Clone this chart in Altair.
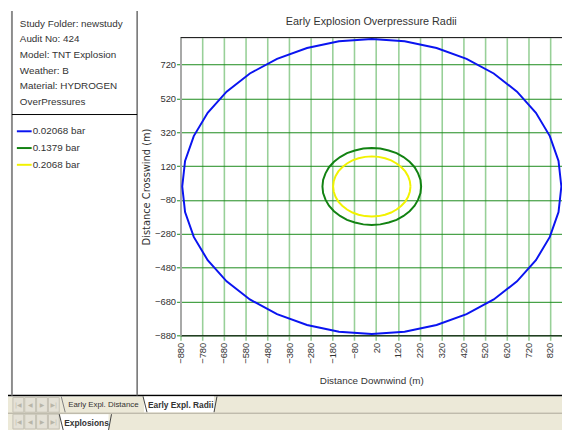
import altair as alt
import pandas as pd

# ---------------- data ----------------
LEVELS = ["0.02068 bar", "0.1379 bar", "0.2068 bar"]
COLORS = ["#0a14f0", "#128212", "#f2f200"]

BLUE_X = [872, 859, 819, 755, 668, 561, 436, 298, 151, 0, -151, -298, -436, -561, -668, -755, -819, -859,
          -872, -859, -819, -755, -668, -561, -436, -298, -151, 0, 151, 298, 436, 561, 668, 755, 819, 859, 872]
BLUE_Y = [0, 151, 298, 436, 561, 668, 755, 819, 859, 872, 859, 819, 755, 668, 561, 436, 298, 151,
          0, -151, -298, -436, -561, -668, -755, -819, -859, -872, -859, -819, -755, -668, -561, -436, -298, -151, 0]

GREEN_X = [227, 224, 213, 197, 174, 146, 114, 78, 39, 0, -39, -78, -114, -146, -174, -197, -213, -224,
           -227, -224, -213, -197, -174, -146, -114, -78, -39, 0, 39, 78, 114, 146, 174, 197, 213, 224, 227]
GREEN_Y = [0, 39, 78, 114, 146, 174, 197, 213, 224, 227, 224, 213, 197, 174, 146, 114, 78, 39,
           0, -39, -78, -114, -146, -174, -197, -213, -224, -227, -224, -213, -197, -174, -146, -114, -78, -39, 0]

YELLOW_X = [178, 175, 167, 154, 136, 114, 89, 61, 31, 0, -31, -61, -89, -114, -136, -154, -167, -175,
            -178, -175, -167, -154, -136, -114, -89, -61, -31, 0, 31, 61, 89, 114, 136, 154, 167, 175, 178]
YELLOW_Y = [0, 31, 61, 89, 114, 136, 154, 167, 175, 178, 175, 167, 154, 136, 114, 89, 61, 31,
            0, -31, -61, -89, -114, -136, -154, -167, -175, -178, -175, -167, -154, -136, -114, -89, -61, -31, 0]

X_TICKS = [-880, -780, -680, -580, -480, -380, -280, -180, -80, 20, 120, 220, 320, 420, 520, 620, 720, 820]
Y_TICKS = [-880, -680, -480, -280, -80, 120, 320, 520, 720]

INFO_LINES = ["Study Folder: newstudy", "Audit No: 424", "Model: TNT Explosion",
              "Weather: B", "Material: HYDROGEN", "OverPressures"]
TITLE = "Early Explosion Overpressure Radii"
X_TITLE = "Distance Downwind (m)"
Y_TITLE = "Distance Crosswind (m)"
TABS_ROW1 = ["Early Expl. Distance", "Early Expl. Radii"]
TABS_ROW2 = ["Explosions"]

# ---------------- layout ----------------
W, H = 387, 302
FONT = "Liberation Sans, Arial, sans-serif"
TXT = "#333333"

rows = []
for lvl, xs, ys in zip(LEVELS, [BLUE_X, GREEN_X, YELLOW_X], [BLUE_Y, GREEN_Y, YELLOW_Y]):
    for i, (xv, yv) in enumerate(zip(xs, ys)):
        rows.append({"level": lvl, "x": xv, "y": yv, "i": i})
contours = pd.DataFrame(rows)

one = pd.DataFrame({"a": [0]})


def text(label, x, y, size=10, font=FONT, weight="normal", color=TXT, align="left", angle=0):
    return alt.Chart(one).mark_text(text=label, font=font, fontSize=size, fontWeight=weight, color=color,
                                    align=align, baseline="middle", angle=angle).encode(
        x=alt.value(x), y=alt.value(y))


def rule(x, y, x2, y2, color="#000000", width=1):
    return alt.Chart(one).mark_rule(color=color, strokeWidth=width).encode(
        x=alt.value(x), y=alt.value(y), x2=alt.value(x2), y2=alt.value(y2))


def rect(x, y, x2, y2, fill, stroke=None):
    kw = {"fill": fill}
    if stroke:
        kw["stroke"] = stroke
        kw["strokeWidth"] = 1
    return alt.Chart(one).mark_rect(**kw).encode(
        x=alt.value(x), y=alt.value(y), x2=alt.value(x2), y2=alt.value(y2))


lines = alt.Chart(contours).mark_line(strokeWidth=2).encode(
    x=alt.X("x:Q", scale=alt.Scale(domain=[-880, 875], nice=False, zero=False),
            axis=alt.Axis(values=X_TICKS, labelAngle=270, grid=True, gridColor="#98d098", gridWidth=1.6,
                          tickColor="#98d098", tickWidth=1.6, tickSize=5, domainColor="#000000", domainWidth=1,
                          labelFont=FONT, labelFontSize=9.5, labelColor=TXT, labelPadding=2,
                          labelOverlap=False, labelFlush=False, title=X_TITLE, titleFont=FONT,
                          titleFontSize=10, titleFontWeight="normal", titleColor=TXT,
                          titleY=46, titleBaseline="middle")),
    y=alt.Y("y:Q", scale=alt.Scale(domain=[-880, 880], nice=False, zero=False),
            axis=alt.Axis(values=Y_TICKS, grid=True, gridColor="#1a8a1a", gridWidth=1,
                          tickColor="#1a8a1a", tickSize=4, domainColor="#a8a8a8", domainWidth=2,
                          labelFont=FONT, labelFontSize=9.5, labelColor=TXT, labelPadding=1,
                          labelOverlap=False, labelFlush=False, title=Y_TITLE, titleFont="DejaVu Sans",
                          titleFontSize=10, titleFontWeight="normal", titleColor=TXT, titleX=-34,
                          titleBaseline="middle")),
    color=alt.Color("level:N", scale=alt.Scale(domain=LEVELS, range=COLORS), legend=None),
    detail="level:N",
    order="i:Q",
)

layers = [
    # bottom tab strip
    rect(-175, 364, W, 398, "#ECE9D8"),
    rule(-175, 363, W, 363, "#000000", 1.5),
    rule(-175, 381, W, 381, "#aca899", 1),
    # left panel frame
    rule(-171, -27, -171, 363, "#8c8c8c", 2),
    rule(-44, -27, -44, 363, "#6a6a6a", 1.5),
    rule(-171, 78, -44, 78, "#000000", 1),
    # plot top border
    rule(0, 0, W, 0, "#000000", 1),
    text(TITLE, W / 2, -16, size=11, align="center"),
]

for k, line in enumerate(INFO_LINES):
    layers.append(text(line, -163, -14 + 15.8 * k, size=10))

for k, (lvl, col) in enumerate(zip(LEVELS, COLORS)):
    yy = 95 + 17 * k
    layers.append(rule(-166, yy, -151, yy, col, 2))
    layers.append(text(lvl, -150, yy, size=10))

# tab navigation buttons
for row_y in [365, 382]:
    for b in range(4):
        bx = -170 + 12 * b
        layers.append(rect(bx, row_y, bx + 11, row_y + 15, "#e4e1d6", "#c4c1b4"))
    glyphs = ["|◀", "◀", "▶", "▶|"]
    for b, g in enumerate(glyphs):
        layers.append(text(g, -164.5 + 12 * b, row_y + 7.5, size=6, font="DejaVu Sans",
                           color="#b8b5a8", align="center"))

# row 1 tabs
layers.append(rule(-121, 364, -117, 380, "#808080", 1))
layers.append(text(TABS_ROW1[0], -114, 372.5, size=8))
layers.append(rect(-37, 364, 34, 380, "#ffffff"))
layers.append(rule(-38, 364, -34, 380, "#404040", 1))
layers.append(rule(34, 380, 37, 364, "#404040", 1))
layers.append(text(TABS_ROW1[1], -33, 372.5, size=8.5, weight="bold"))
# row 2 tab
layers.append(rect(-122, 382, -73, 398, "#ffffff"))
layers.append(rule(-123, 382, -119, 398, "#404040", 1))
layers.append(rule(-73, 398, -70, 382, "#404040", 1))
layers.append(text(TABS_ROW2[0], -118, 390.5, size=8.5, weight="bold"))

chart = alt.layer(lines, *layers).properties(
    width=W, height=H,
    autosize=alt.AutoSizeParams(type="none"),
    padding={"left": 175, "top": 27, "right": 0, "bottom": 96},
    background="#ffffff",
).configure_view(stroke=None)

chart.save("out.html", embed_options={"renderer": "svg", "actions": False})
